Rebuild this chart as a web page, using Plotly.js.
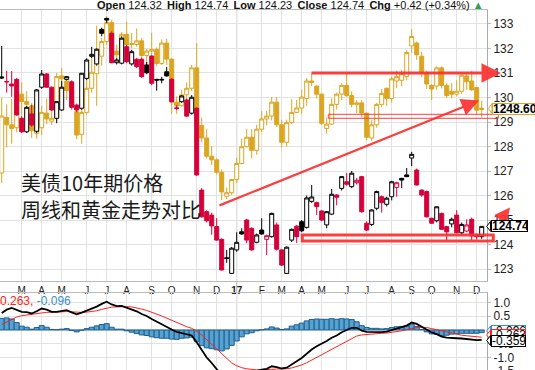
<!DOCTYPE html>
<html><head><meta charset="utf-8">
<script src="https://cdn.plot.ly/plotly-3.0.1.min.js"></script>
<style>html,body{margin:0;padding:0;overflow:hidden;background:#fff;}#chart{width:535px;height:390px;}</style>
</head><body><div id="chart"></div>
<script>
// weekly bars (week starting Monday)
const weeks = ['2016-02-08','2016-02-15','2016-02-22','2016-02-29','2016-03-07','2016-03-14','2016-03-21','2016-03-28','2016-04-04','2016-04-11','2016-04-18','2016-04-25','2016-05-02','2016-05-09','2016-05-16','2016-05-23','2016-05-30','2016-06-06','2016-06-13','2016-06-20','2016-06-27','2016-07-04','2016-07-11','2016-07-18','2016-07-25','2016-08-01','2016-08-08','2016-08-15','2016-08-22','2016-08-29','2016-09-05','2016-09-12','2016-09-19','2016-09-26','2016-10-03','2016-10-10','2016-10-17','2016-10-24','2016-10-31','2016-11-07','2016-11-14','2016-11-21','2016-11-28','2016-12-05','2016-12-12','2016-12-19','2016-12-26','2017-01-02','2017-01-09','2017-01-16','2017-01-23','2017-01-30','2017-02-06','2017-02-13','2017-02-20','2017-02-27','2017-03-06','2017-03-13','2017-03-20','2017-03-27','2017-04-03','2017-04-10','2017-04-17','2017-04-24','2017-05-01','2017-05-08','2017-05-15','2017-05-22','2017-05-29','2017-06-05','2017-06-12','2017-06-19','2017-06-26','2017-07-03','2017-07-10','2017-07-17','2017-07-24','2017-07-31','2017-08-07','2017-08-14','2017-08-21','2017-08-28','2017-09-04','2017-09-11','2017-09-18','2017-09-25','2017-10-02','2017-10-09','2017-10-16','2017-10-23','2017-10-30','2017-11-06','2017-11-13','2017-11-20','2017-11-27','2017-12-04','2017-12-11'];

// 10-year T-note futures (weekly OHLC)
const bondPrevClose = 130.50;
const bondOpen = [130.84,130.65,130.55,130.74,129.15,128.60,129.33,128.62,130.42,130.96,
130.42,129.15,129.49,130.74,130.64,129.69,129.56,130.78,131.68,131.37,
132.78,133.23,132.62,131.42,131.40,132.07,131.37,131.56,131.56,131.33,
131.69,130.74,130.74,131.05,130.74,129.58,129.83,129.90,129.36,129.56,
126.22,125.34,125.20,124.73,124.21,123.46,122.82,123.78,124.52,125.00,
124.66,124.09,124.59,124.21,124.32,124.80,123.78,122.82,124.18,124.75,
124.93,124.70,125.76,125.71,125.37,124.80,125.24,126.02,126.29,126.56,
126.36,126.52,126.77,124.87,124.82,125.48,125.95,125.64,125.95,126.33,
126.70,126.84,127.53,127.04,126.22,126.16,125.07,124.97,125.27,124.73,
124.84,125.20,124.48,124.55,125.03,124.38,124.32];
const bondHigh = [132.10,131.09,131.08,130.80,129.25,129.65,129.70,130.35,131.12,131.00,
130.45,129.85,130.67,130.88,130.70,129.75,131.00,131.60,132.07,132.00,
132.85,133.25,132.70,131.60,132.50,132.15,131.95,131.62,131.62,131.45,
131.75,130.76,130.84,131.25,130.80,129.69,130.10,129.95,130.10,129.60,
126.30,125.40,125.30,125.08,124.25,123.78,123.90,124.50,124.66,125.05,
124.70,124.45,125.07,124.40,125.30,124.90,123.82,123.92,124.65,124.80,
125.00,126.00,126.43,125.75,125.40,125.36,126.27,126.05,126.80,126.92,
127.00,126.72,126.80,124.95,125.45,126.20,126.00,125.95,126.60,126.56,
126.72,127.12,127.78,127.10,126.25,126.20,125.10,125.55,125.30,124.76,
125.10,125.40,124.90,125.03,125.10,124.45,124.74];
const bondLow = [130.75,130.20,130.03,129.25,128.55,128.55,128.80,128.55,130.35,130.40,
129.45,128.95,129.45,130.70,129.55,129.40,129.50,130.70,131.60,131.30,
132.50,133.05,131.40,131.35,131.35,131.40,131.30,131.20,130.80,130.95,
130.50,130.28,130.58,130.85,129.80,129.49,129.78,129.20,129.30,126.80,
125.10,124.90,124.40,124.15,122.95,123.25,122.80,123.70,124.40,124.05,
123.75,124.05,124.40,123.57,124.28,123.75,123.12,122.80,124.10,124.06,
124.50,124.65,125.70,125.20,124.95,124.66,125.20,125.60,126.20,126.40,
126.30,126.45,125.30,124.55,124.75,125.40,125.30,125.55,125.80,125.95,
126.30,126.75,127.20,126.40,125.95,125.10,124.85,124.90,124.60,124.18,
124.70,124.45,124.40,124.50,124.18,124.20,124.23];
const bondClose = [130.80,130.64,130.47,129.29,128.60,129.60,128.88,130.31,130.96,130.42,
129.49,129.83,130.42,130.85,129.60,129.49,130.99,131.53,131.76,131.97,
132.62,133.16,131.42,131.53,132.42,131.46,131.87,131.26,130.85,131.01,
130.58,130.71,130.72,130.88,129.83,129.55,130.06,129.24,130.01,126.84,
125.13,124.97,124.76,124.18,122.96,123.43,123.85,124.09,124.43,124.18,
123.78,124.39,124.43,124.36,125.27,123.81,123.16,123.89,124.62,124.32,
124.56,125.90,125.94,125.55,125.00,125.34,126.05,125.93,126.77,126.46,
126.91,126.62,125.34,124.59,125.41,126.16,125.71,125.89,126.56,126.52,
126.63,126.77,127.68,126.43,126.02,125.13,124.87,125.54,124.62,124.52,
125.03,124.48,124.82,124.80,124.35,124.32,124.74];

// Gold (weekly OHLC)
const goldOpen = [1160,1236,1226,1222,1268,1258,1252,1214,1222,1242,
1231,1238,1293,1286,1273,1244,1213,1243,1276,1296,
1320,1340,1366,1327,1322,1350,1336,1336,1341,1321,
1327,1329,1310,1338,1316,1257,1252,1267,1276,1304,
1225,1208,1183,1178,1161,1128,1133,1151,1173,1196,
1209,1191,1220,1234,1238,1257,1226,1202,1229,1243,
1249,1262,1286,1279,1268,1221,1227,1254,1268,1280,
1266,1254,1256,1242,1208,1226,1254,1276,1262,1286,
1287,1292,1334,1338,1320,1297,1280,1279,1304,1280,
1272,1268,1272,1293,1286,1277,1247];
const goldHigh = [1263,1254,1262,1281,1284,1272,1256,1244,1252,1262,
1271,1297,1304,1290,1286,1252,1247,1286,1316,1362,
1345,1375,1370,1336,1353,1367,1352,1358,1345,1330,
1352,1332,1343,1344,1317,1265,1274,1284,1308,1338,
1236,1220,1197,1180,1165,1140,1152,1181,1207,1220,
1220,1226,1245,1245,1264,1264,1233,1233,1261,1260,
1274,1290,1296,1280,1269,1236,1262,1270,1283,1296,
1272,1260,1260,1242,1232,1256,1275,1277,1292,1300,
1301,1328,1357,1340,1326,1300,1282,1306,1306,1283,
1283,1287,1297,1298,1300,1278,1259];
const goldLow = [1146,1195,1200,1216,1240,1226,1208,1207,1212,1227,
1226,1232,1277,1260,1246,1206,1200,1240,1270,1252,
1307,1335,1322,1310,1313,1334,1331,1333,1316,1302,
1323,1306,1308,1308,1241,1241,1251,1261,1272,1220,
1202,1180,1171,1158,1123,1124,1130,1146,1172,1195,
1180,1185,1216,1225,1232,1223,1195,1196,1227,1242,
1241,1252,1279,1262,1226,1214,1226,1247,1260,1264,
1250,1242,1236,1205,1204,1222,1250,1252,1256,1276,
1279,1287,1325,1315,1291,1275,1260,1274,1276,1263,
1262,1265,1268,1274,1272,1241,1236];
const goldClose = [1238,1226,1221,1270,1258,1254,1218,1222,1243,1234,
1235,1292,1289,1273,1252,1212,1243,1276,1298,1322,
1340,1366,1327,1322,1350,1336,1337,1341,1321,1327,
1329,1310,1338,1316,1257,1252,1267,1276,1304,1225,
1208,1183,1178,1161,1134,1133,1151,1173,1196,1209,
1191,1220,1234,1238,1257,1226,1202,1229,1243,1249,
1264,1286,1284,1268,1228,1227,1254,1268,1280,1266,
1254,1256,1242,1209,1226,1254,1269,1262,1289,1292,
1296,1325,1347,1322,1297,1282,1275,1304,1280,1266,
1268,1272,1294,1285,1274,1246,1248.6];

// MACD(12,26,9) of the bond
const macdLine = [0.62,0.74,0.80,0.74,0.66,0.65,0.60,0.68,0.78,0.74,
0.66,0.66,0.69,0.72,0.64,0.57,0.63,0.70,0.77,0.85,
0.95,1.03,0.93,0.87,0.88,0.82,0.76,0.68,0.58,0.51,
0.40,0.30,0.21,0.13,0.02,-0.07,-0.11,-0.17,-0.20,-0.45,
-0.75,-1.00,-1.20,-1.42,-1.65,-1.75,-1.76,-1.70,-1.62,-1.55,
-1.54,-1.48,-1.44,-1.41,-1.32,-1.35,-1.40,-1.37,-1.24,-1.14,
-1.02,-0.86,-0.71,-0.59,-0.50,-0.40,-0.28,-0.20,-0.08,0.01,
0.08,0.08,-0.02,-0.07,-0.08,-0.07,-0.08,-0.06,0.00,0.06,
0.10,0.16,0.27,0.22,0.12,0.02,-0.09,-0.15,-0.24,-0.28,
-0.28,-0.30,-0.31,-0.33,-0.35,-0.37,-0.359];
const signalLine = [0.20,0.30,0.40,0.47,0.52,0.55,0.57,0.59,0.62,0.64,
0.64,0.65,0.66,0.67,0.66,0.64,0.64,0.65,0.67,0.70,
0.75,0.80,0.83,0.84,0.85,0.85,0.84,0.81,0.76,0.71,
0.65,0.58,0.51,0.43,0.35,0.27,0.19,0.12,0.06,-0.04,
-0.18,-0.35,-0.52,-0.70,-0.89,-1.06,-1.20,-1.30,-1.37,-1.41,
-1.44,-1.45,-1.45,-1.45,-1.43,-1.42,-1.42,-1.41,-1.38,-1.33,
-1.27,-1.19,-1.09,-0.99,-0.89,-0.79,-0.69,-0.59,-0.49,-0.39,
-0.30,-0.22,-0.18,-0.16,-0.14,-0.13,-0.12,-0.11,-0.09,-0.06,
-0.03,0.01,0.06,0.09,0.10,0.09,0.05,0.01,-0.04,-0.09,
-0.13,-0.16,-0.19,-0.21,-0.23,-0.25,-0.263];

const monthTicks = ['2016-03-07','2016-04-04','2016-05-02','2016-06-06','2016-07-04','2016-08-01','2016-09-05','2016-10-03','2016-11-07','2016-12-05','2017-01-02','2017-02-06','2017-03-06','2017-04-03','2017-05-01','2017-06-05','2017-07-03','2017-08-07','2017-09-04','2017-10-02','2017-11-06','2017-12-04'];
const monthLabels = ['M','A','M','J','J','A','S','O','N','D','<b>17</b>','F','M','A','M','J','J','A','S','O','N','D'];
const bondTicks = [123,124,125,126,127,128,129,130,131,132,133];
const macdTicks = [-1.5,-1.0,-0.5,0,0.5,1.0];
const macdTickLabels = ['-1.5','-1.0','-0.5','0.0','0.5','1.0'];
const headerText = '<b>Open</b> 124.32\u00a0\u2009<b>High</b> 124.74\u00a0\u2009<b>Low</b> 124.23\u00a0\u2009<b>Close</b> 124.74\u00a0\u2009<b>Chg</b> +0.42 (+0.34%) ';
const titleLine1 = '美债10年期价格';
const titleLine2 = '周线和黄金走势对比';

// ---------- styling / layout ----------
const RED = '#D6003A', GOLD = '#DAA520', ARW = 'rgba(252,48,48,0.92)';
const PX = x => x / 487;
const PY = y => 1 - (y - 10) / 380;

const cls = bondClose.map((c, i) => {
  const prev = i === 0 ? bondPrevClose : bondClose[i - 1];
  const up = c >= bondOpen[i];
  const black = c >= prev;
  return (black ? 'b' : 'r') + (up ? 'h' : 'f');
});
const styles = {bh: ['#000', '#fff'], rh: [RED, '#fff'], bf: ['#000', '#000'], rf: [RED, RED]};

const traces = [];
traces.push({
  type: 'candlestick', x: weeks, open: goldOpen, high: goldHigh, low: goldLow, close: goldClose,
  xaxis: 'x', yaxis: 'y', whiskerwidth: 0, hoverinfo: 'skip', showlegend: false,
  increasing: {line: {color: GOLD, width: 1}, fillcolor: '#fff'},
  decreasing: {line: {color: GOLD, width: 1}, fillcolor: GOLD}
});
Object.keys(styles).forEach(k => {
  const pick = arr => arr.map((v, i) => cls[i] === k ? v : null);
  const st = {line: {color: styles[k][0], width: 1}, fillcolor: styles[k][1]};
  traces.push({
    type: 'candlestick', x: weeks, open: pick(bondOpen), high: pick(bondHigh), low: pick(bondLow), close: pick(bondClose),
    xaxis: 'x', yaxis: 'y3', whiskerwidth: 0, hoverinfo: 'skip', showlegend: false,
    increasing: st, decreasing: st
  });
});
traces.push({type: 'bar', x: weeks, y: macdLine.map((m, i) => m - signalLine[i]), xaxis: 'x2', yaxis: 'y2',
  marker: {color: '#56A2D1', line: {color: '#1F5F8E', width: 1}}, hoverinfo: 'skip', showlegend: false});
traces.push({type: 'scatter', mode: 'lines', x: weeks, y: signalLine, xaxis: 'x2', yaxis: 'y2',
  line: {color: '#FF2020', width: 1}, hoverinfo: 'skip', showlegend: false});
traces.push({type: 'scatter', mode: 'lines', x: weeks, y: macdLine, xaxis: 'x2', yaxis: 'y2',
  line: {color: '#000', width: 1.8}, hoverinfo: 'skip', showlegend: false});

const xRange = ['2016-02-05 14:50', '2017-12-18 10:00'];
const GRID = '#e2e2e2';

function tag(xl, yc, w, text, border, bold, size) {
  return {xref: 'paper', yref: 'paper', x: PX(xl), y: PY(yc), xanchor: 'left', yanchor: 'middle',
    text: bold ? '<b>' + text + '</b>' : text, showarrow: false, align: 'left',
    font: {size: size || 12, color: '#000'}, bgcolor: '#fff', bordercolor: border, borderwidth: 1, borderpad: 0,
    width: w, height: 10};
}
function tip(xt, xl, yc, col) {
  return {type: 'path', xref: 'paper', yref: 'paper', layer: 'above',
    path: `M ${PX(xt)},${PY(yc)} L ${PX(xl)},${PY(yc - 5)} L ${PX(xl)},${PY(yc + 5)} Z`,
    fillcolor: '#fff', line: {color: col, width: 1}};
}

const annotations = [
  {xref: 'paper', yref: 'paper', x: PX(486), y: PY(5), xanchor: 'right', yanchor: 'middle', showarrow: false,
    text: headerText + '<span style="color:#2E9E4F">▲</span>', font: {size: 11, color: '#111'}},
  {xref: 'paper', yref: 'paper', x: PX(19), y: PY(182), xanchor: 'left', yanchor: 'middle', showarrow: false,
    text: titleLine1, font: {family: 'Noto Sans CJK SC', size: 20, color: '#1a1a1a'}},
  {xref: 'paper', yref: 'paper', x: PX(19), y: PY(209), xanchor: 'left', yanchor: 'middle', showarrow: false,
    text: titleLine2, font: {family: 'Noto Sans CJK SC', size: 20, color: '#1a1a1a'}},
  {xref: 'paper', yref: 'paper', x: PX(479), y: PY(100.5), ax: -261, ay: 105.5, text: '', showarrow: true,
    arrowhead: 2, arrowsize: 1.6, arrowwidth: 2.2, arrowcolor: ARW},
  {xref: 'paper', yref: 'paper', x: PX(501), y: PY(73), ax: -191, ay: 0, text: '', showarrow: true,
    arrowhead: 2, arrowsize: 1.3, arrowwidth: 3, arrowcolor: ARW},
  {xref: 'paper', yref: 'paper', x: PX(510), y: PY(207.5), ax: -20, ay: 25.5, text: '', showarrow: true,
    arrowhead: 2, arrowsize: 1.3, arrowwidth: 2.4, arrowcolor: ARW},
  tag(492, 108.6, 50, '1248.60', GOLD, true),
  tag(490.5, 226.4, 35, '124.74', '#000', true),
  tag(490.5, 331, 33, '-0.096', '#3A8FC5', false),
  tag(490.5, 335, 33, '-0.263', '#FF2020', false),
  tag(490.5, 340.5, 33, '-0.359', '#000', false),
  {xref: 'paper', yref: 'paper', x: PX(-6.5), y: PY(301), xanchor: 'left', yanchor: 'middle', showarrow: false,
    text: '<span style="color:#FF2020">-0.263,</span> <span style="color:#3A8FC5">-0.096</span>', font: {size: 12}}
];

const shapes = [
  {type: 'line', xref: 'x', yref: 'paper', x0: '2017-01-02', x1: '2017-01-02', y0: 0, y1: 1,
    line: {color: '#b4b4b4', width: 1}, layer: 'below'},
  {type: 'rect', xref: 'paper', yref: 'paper', x0: PX(328.3), x1: PX(498.3), y0: PY(118.3), y1: PY(114.3),
    line: {color: ARW, width: 1}, fillcolor: 'rgba(0,0,0,0)'},
  {type: 'rect', xref: 'paper', yref: 'paper', x0: PX(302.3), x1: PX(493.3), y0: PY(241), y1: PY(235),
    line: {color: ARW, width: 3}, fillcolor: 'rgba(0,0,0,0)'},
  tip(488.3, 492, 108.6, GOLD),
  tip(486.7, 490.5, 226.4, '#000'),
  tip(486.7, 490.5, 331, '#3A8FC5'),
  tip(486.7, 490.5, 335, '#FF2020'),
  tip(486.7, 490.5, 340.5, '#000')
];

const layout = {
  width: 535, height: 390, margin: {l: 0, r: 48, t: 10, b: 0},
  paper_bgcolor: '#fff', plot_bgcolor: '#fff', showlegend: false,
  font: {family: 'Liberation Sans, Arial, sans-serif', color: '#222'},
  boxgap: 0.2, boxgroupgap: 0, bargap: 0,
  xaxis: {type: 'date', range: xRange, tickvals: monthTicks, ticktext: monthLabels, tickangle: 0,
    showgrid: true, gridcolor: GRID, ticks: '', tickfont: {size: 10, color: '#222'},
    showline: true, linecolor: '#bbb', mirror: true, zeroline: false, anchor: 'y',
    rangeslider: {visible: false}, fixedrange: true},
  yaxis: {domain: [0.2868, 1], range: [1012.0, 1383.27], visible: false, fixedrange: true},
  yaxis3: {overlaying: 'y', anchor: 'x', side: 'right', range: [122.51, 133.571], tickvals: bondTicks,
    showgrid: true, gridcolor: GRID, zeroline: false, tickfont: {size: 12, color: '#222'},
    ticks: 'outside', ticklen: 3, tickcolor: '#bbb', showline: true, linecolor: '#aaa', fixedrange: true},
  xaxis2: {type: 'date', matches: 'x', anchor: 'y2', tickvals: monthTicks, showticklabels: false,
    showgrid: true, gridcolor: GRID, ticks: '', showline: true, linecolor: '#bbb', mirror: true,
    zeroline: false, rangeslider: {visible: false}},
  yaxis2: {domain: [0, 0.2553], anchor: 'x2', side: 'right', range: [-2.1818, 1.3455],
    tickvals: macdTicks, ticktext: macdTickLabels, showgrid: true, gridcolor: GRID, zeroline: false,
    tickfont: {size: 12, color: '#222'}, ticks: 'outside', ticklen: 3, tickcolor: '#bbb',
    showline: true, linecolor: '#aaa', fixedrange: true},
  annotations: annotations, shapes: shapes
};

Plotly.newPlot('chart', traces, layout, {staticPlot: true, displayModeBar: false});
</script>
</body></html>
